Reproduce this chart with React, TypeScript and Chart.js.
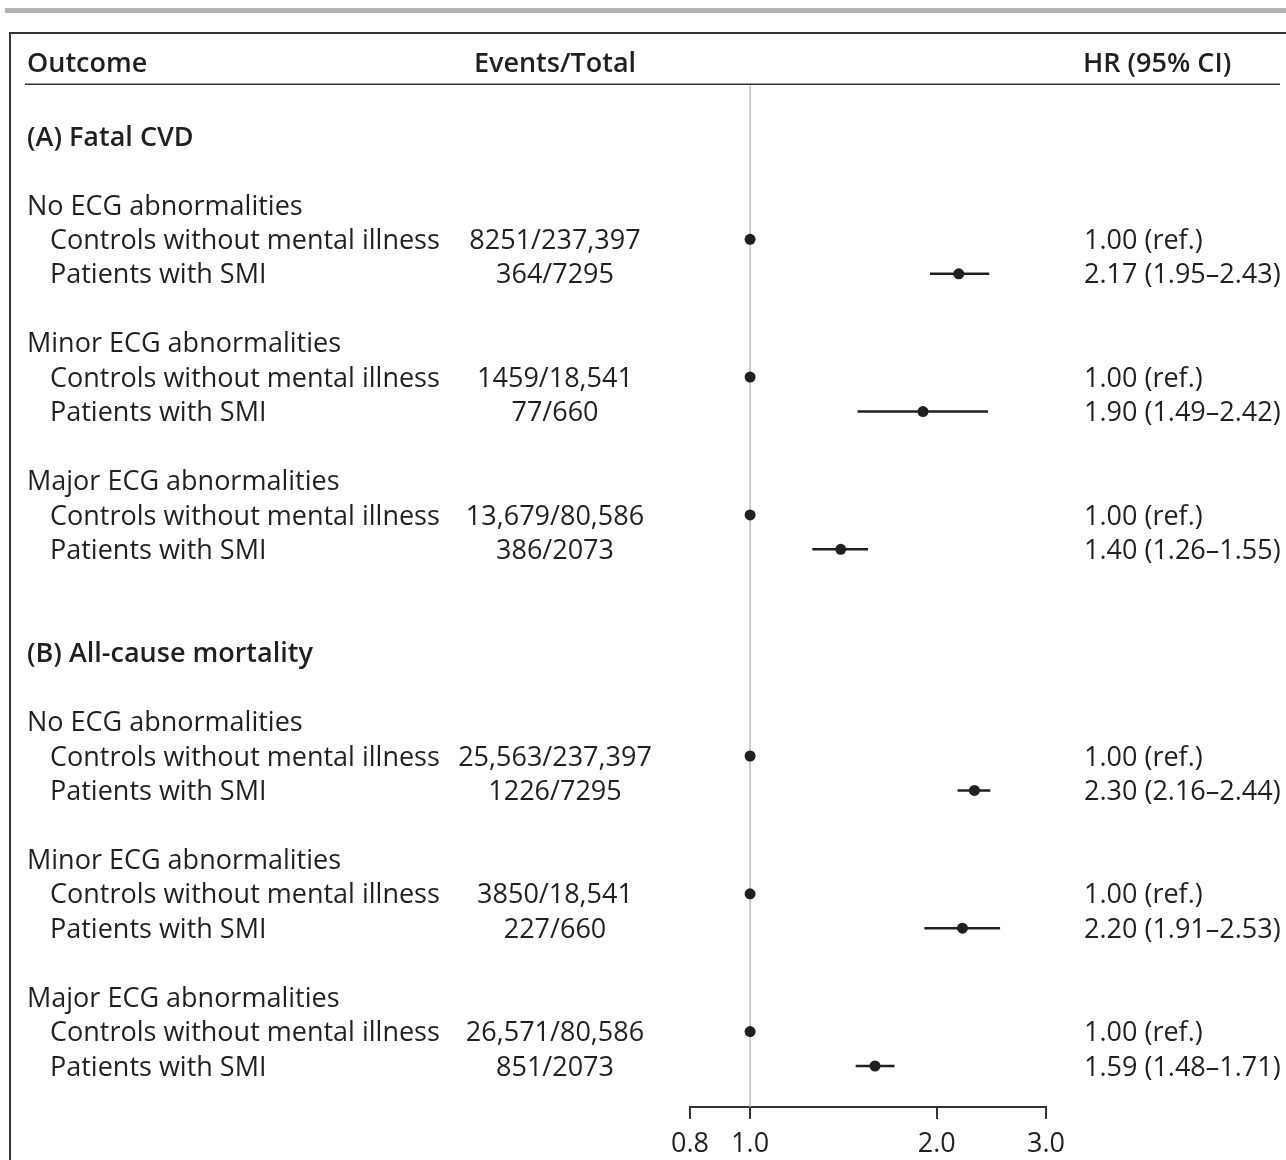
import React, { useEffect, useRef } from "react";
import { Chart, registerables } from "chart.js";

Chart.register(...registerables);

// ---- table content -------------------------------------------------------
const columnHeaders = ["Outcome", "Events/Total", "HR (95% CI)"];
const sectionTitles = ["(A) Fatal CVD", "(B) All-cause mortality"];
const ecgGroups = ["No ECG abnormalities", "Minor ECG abnormalities", "Major ECG abnormalities"];
const armLabels = ["Controls without mental illness", "Patients with SMI"];

// one entry per arm row, section A first then section B
const eventsTotals = [
  "8251/237,397", "364/7295",
  "1459/18,541", "77/660",
  "13,679/80,586", "386/2073",
  "25,563/237,397", "1226/7295",
  "3850/18,541", "227/660",
  "26,571/80,586", "851/2073",
];
const hrEstimates = [1.0, 2.17, 1.0, 1.9, 1.0, 1.4, 1.0, 2.3, 1.0, 2.2, 1.0, 1.59];
const ciLower = [null, 1.95, null, 1.49, null, 1.26, null, 2.16, null, 1.91, null, 1.48];
const ciUpper = [null, 2.43, null, 2.42, null, 1.55, null, 2.44, null, 2.53, null, 1.71];

const xTicks = [0.8, 1.0, 2.0, 3.0];
const referenceHR = 1.0;

// ---- styling --------------------------------------------------------------
const INK = "#231f20";
const FONT = '"Open Sans", "Noto Sans", sans-serif';
const FONT_SIZE = 27;
const TEXT_NUDGE = 2;

// row positions (in row units, 0 = first section title)
const HEADER_ROW = -2.15;
const HEADER_RULE_ROW = -1.5;

type Row = { y: number; kind: "section" | "group" | "arm"; label: string; idx: number };
const rows: Row[] = [];
sectionTitles.forEach((title, s) => {
  const base = s * 15;
  rows.push({ y: base, kind: "section", label: title, idx: -1 });
  ecgGroups.forEach((g, gi) => {
    const gy = base + 2 + gi * 4;
    rows.push({ y: gy, kind: "group", label: g, idx: -1 });
    armLabels.forEach((a, ai) => {
      rows.push({ y: gy + 1 + ai, kind: "arm", label: a, idx: s * 6 + gi * 2 + ai });
    });
  });
});
const armRows = rows.filter((r) => r.kind === "arm");

const hrText = (i: number) => {
  const lo = ciLower[i];
  const hi = ciUpper[i];
  if (lo == null || hi == null) return `${hrEstimates[i].toFixed(2)} (ref.)`;
  return `${hrEstimates[i].toFixed(2)} (${lo.toFixed(2)}–${hi.toFixed(2)})`;
};

const tablePlugin = {
  id: "forestTable",
  beforeDraw(chart: any) {
    const { ctx, width, height } = chart;
    const y = chart.scales.y;
    ctx.save();
    ctx.fillStyle = "#fff";
    ctx.fillRect(0, 0, width, height);
    // grey strip across the top
    ctx.fillStyle = "#b1b1b3";
    ctx.fillRect(5, 8, width - 5, 5);
    // frame: top and left edges
    ctx.strokeStyle = "#333";
    ctx.lineWidth = 2;
    ctx.beginPath();
    ctx.moveTo(width, 33);
    ctx.lineTo(10, 33);
    ctx.lineTo(10, height);
    ctx.stroke();
    // rule under column headers
    const ry = y.getPixelForValue(HEADER_RULE_ROW);
    ctx.lineWidth = 1.6;
    ctx.beginPath();
    ctx.moveTo(25, ry);
    ctx.lineTo(1280, ry);
    ctx.stroke();
    ctx.restore();
  },
  beforeDatasetsDraw(chart: any) {
    const { ctx, chartArea } = chart;
    const x = chart.scales.x;
    const y = chart.scales.y;
    const px = x.getPixelForValue(referenceHR);
    ctx.save();
    ctx.strokeStyle = "#bdbdbd";
    ctx.lineWidth = 1.5;
    ctx.beginPath();
    ctx.moveTo(px, y.getPixelForValue(HEADER_RULE_ROW) + 1);
    ctx.lineTo(px, chartArea.bottom);
    ctx.stroke();
    ctx.restore();
  },
  afterDraw(chart: any) {
    const { ctx } = chart;
    const y = chart.scales.y;
    ctx.save();
    ctx.fillStyle = INK;
    ctx.textBaseline = "middle";
    const regular = `${FONT_SIZE}px ${FONT}`;
    const semi = `600 ${FONT_SIZE}px ${FONT}`;

    const hy = y.getPixelForValue(HEADER_ROW) + TEXT_NUDGE;
    ctx.font = semi;
    ctx.textAlign = "left";
    ctx.fillText(columnHeaders[0], 27, hy);
    ctx.textAlign = "center";
    ctx.fillText(columnHeaders[1], 555, hy);
    ctx.textAlign = "left";
    ctx.fillText(columnHeaders[2], 1083, hy);

    rows.forEach((r) => {
      const py = y.getPixelForValue(r.y) + TEXT_NUDGE;
      if (r.kind === "section") {
        ctx.font = semi;
        ctx.textAlign = "left";
        ctx.fillText(r.label, 27, py);
      } else if (r.kind === "group") {
        ctx.font = regular;
        ctx.textAlign = "left";
        ctx.fillText(r.label, 27, py);
      } else {
        ctx.font = regular;
        ctx.textAlign = "left";
        ctx.fillText(r.label, 50, py);
        ctx.textAlign = "center";
        ctx.fillText(eventsTotals[r.idx], 555, py);
        ctx.textAlign = "left";
        ctx.fillText(hrText(r.idx), 1084, py);
      }
    });
    ctx.restore();
  },
};

export default function App() {
  const canvasRef = useRef<HTMLCanvasElement | null>(null);

  useEffect(() => {
    const canvas = canvasRef.current;
    if (!canvas) return;

    const ciDatasets = armRows
      .filter((r) => ciLower[r.idx] != null)
      .map((r) => ({
        label: `ci-${r.idx}`,
        data: [
          { x: ciLower[r.idx] as number, y: r.y },
          { x: ciUpper[r.idx] as number, y: r.y },
        ],
        showLine: true,
        borderColor: INK,
        borderWidth: 2.5,
        pointRadius: 0,
        pointHoverRadius: 0,
      }));

    const pointDataset = {
      label: "HR",
      data: armRows.map((r) => ({ x: hrEstimates[r.idx], y: r.y })),
      showLine: false,
      pointRadius: 5.5,
      pointHoverRadius: 5.5,
      backgroundColor: INK,
      borderWidth: 0,
    };

    const chart = new Chart(canvas, {
      type: "scatter",
      data: { datasets: [...ciDatasets, pointDataset] as any },
      options: {
        animation: false,
        responsive: false,
        devicePixelRatio: 1,
        layout: { padding: { left: 690, right: 240, top: 33, bottom: 3 } },
        plugins: { legend: { display: false }, tooltip: { enabled: false } },
        events: [],
        scales: {
          x: {
            type: "logarithmic",
            min: 0.8,
            max: 3.0,
            afterBuildTicks: (scale: any) => {
              scale.ticks = xTicks.map((v) => ({ value: v }));
            },
            afterFit: (scale: any) => {
              scale.height = 50;
            },
            ticks: {
              autoSkip: false,
              maxRotation: 0,
              padding: 9,
              color: INK,
              font: { family: FONT, size: 27, lineHeight: 1.2 },
              callback: (v: any) => Number(v).toFixed(1),
            },
            grid: {
              drawOnChartArea: false,
              drawTicks: true,
              tickLength: 12,
              color: "#333",
              lineWidth: 2,
            },
            border: { display: true, color: "#333", width: 2 },
          },
          y: {
            type: "linear",
            reverse: true,
            min: -2.99,
            max: 28.19,
            display: false,
          },
        },
      },
      plugins: [tablePlugin],
    });

    return () => chart.destroy();
  }, []);

  return (
    <div style={{ position: "absolute", left: 0, top: 0, width: 1286, height: 1160 }}>
      <canvas ref={canvasRef} width={1286} height={1160} />
    </div>
  );
}
